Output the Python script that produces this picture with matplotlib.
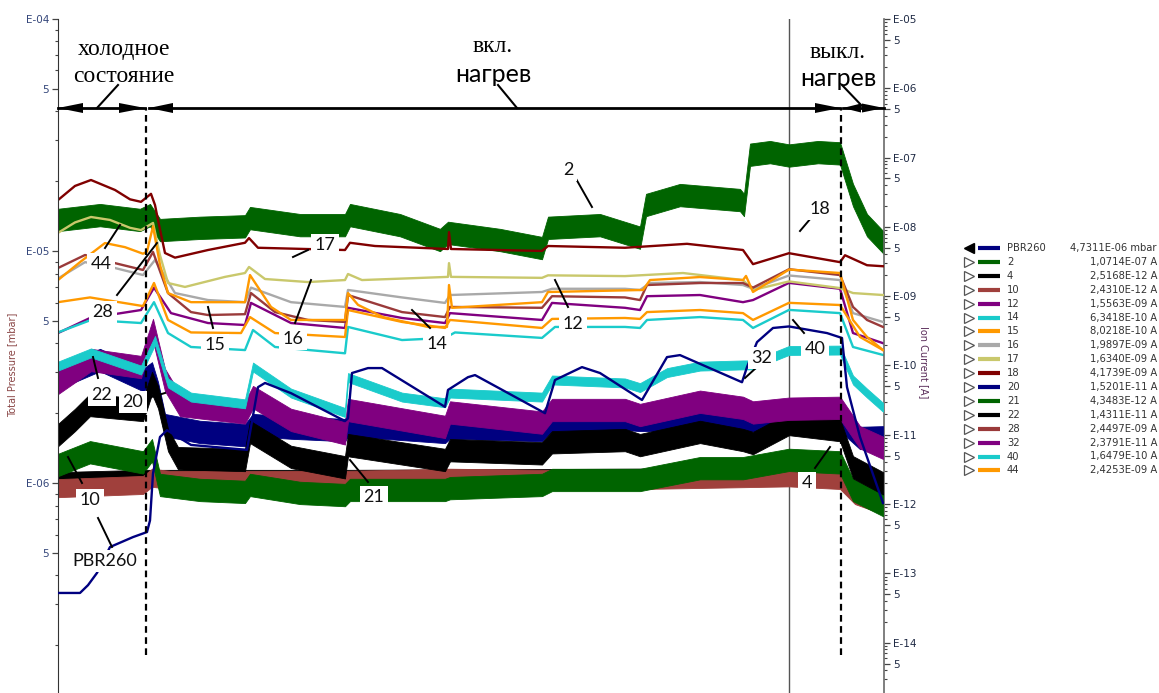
import numpy as np
import matplotlib
matplotlib.use("Agg")
import matplotlib.pyplot as plt
from matplotlib.ticker import FixedLocator, FuncFormatter, NullFormatter

W, H, DPI = 1159, 693, 100

# ---------------- time axis (min) and heater events ----------------
t_end = 826
heater_on = 88
heater_off = 783
cursor_t = 731

# ---------------- total pressure, PBR260 gauge (mbar) ----------------
t_pbr = [0, 22, 30, 39, 52, 75, 89, 92, 95, 102, 109, 133, 189, 200, 207, 233, 287, 290, 294, 310,
         324, 387, 390, 410, 417, 487, 497, 524, 542, 584, 609, 622, 684, 689, 699, 715, 731, 769,
         784, 789, 802, 825]
p_pbr = [3.36e-7, 3.36e-7, 3.63e-7, 4.1e-7, 5.3e-7, 5.85e-7, 6.15e-7, 6.9e-7, 1.10e-6, 1.58e-6,
         1.69e-6, 1.46e-6, 1.39e-6, 2.59e-6, 2.7e-6, 2.44e-6, 1.85e-6, 1.9e-6, 2.98e-6, 3.13e-6,
         3.13e-6, 2.13e-6, 2.52e-6, 2.86e-6, 2.92e-6, 2.0e-6, 2.78e-6, 3.16e-6, 2.98e-6, 2.28e-6,
         3.49e-6, 3.56e-6, 2.72e-6, 3.16e-6, 4.05e-6, 4.66e-6, 4.7311e-6, 4.43e-6, 4.22e-6, 2.59e-6,
         1.58e-6, 8.2e-7]

# ---------------- ion currents (A) per mass number ----------------
t_m2 = [0, 42, 82, 92, 102, 142, 187, 192, 242, 287, 292, 342, 382, 390, 442, 484, 490, 542, 582,
        588, 622, 682, 686, 692, 712, 731, 760, 782, 795, 809, 826]
i_m2 = [1.26e-8, 1.48e-8, 1.26e-8, 1.48e-8, 9.0e-9, 9.7e-9, 1.02e-8, 1.34e-8, 1.06e-8, 1.06e-8,
        1.48e-8, 1.06e-8, 6.47e-9, 8.2e-9, 6.47e-9, 4.95e-9, 9.7e-9, 1.06e-8, 7.0e-9, 2.07e-8,
        2.88e-8, 2.44e-8, 2.07e-8, 1.1e-7, 1.2e-7, 1.0714e-7, 1.2e-7, 1.15e-7, 2.88e-8, 1.06e-8, 5.85e-9]

t_m4 = [0, 85, 102, 287, 582, 731, 782, 797, 825]
i_m4 = [2.23e-12, 2.4e-12, 2.4e-12, 2.4e-12, 2.5e-12, 2.5168e-12, 2.4e-12, 1.5e-12, 1.15e-12]

t_m10 = [0, 85, 94, 112, 287, 392, 582, 731, 782, 797, 825]
i_m10 = [1.7e-12, 1.89e-12, 2.4e-12, 2.23e-12, 2.23e-12, 2.4e-12, 2.23e-12, 2.4310e-12, 2.23e-12,
         1.35e-12, 9.7e-13]

t_m12 = [0, 32, 83, 96, 113, 150, 187, 193, 233, 287, 290, 344, 387, 392, 484, 494, 567, 582, 589,
         642, 685, 695, 731, 782, 795, 825]
i_m12 = [2.94e-10, 4.85e-10, 6.32e-10, 1.33e-9, 5.7e-10, 4.1e-10, 3.84e-10, 8.0e-10, 4.1e-10,
         3.48e-10, 6.8e-10, 4.85e-10, 4.1e-10, 5.7e-10, 4.54e-10, 8.0e-10, 6.8e-10, 6.32e-10, 1.0e-9,
         1.04e-9, 8.2e-10, 8.8e-10, 1.5563e-9, 1.28e-9, 2.94e-10, 2.1e-10]

t_m14 = [0, 33, 83, 96, 110, 133, 187, 195, 217, 287, 290, 344, 387, 397, 484, 497, 567, 582, 589,
         642, 685, 695, 731, 782, 795, 825]
i_m14 = [3.0e-10, 4.54e-10, 4.1e-10, 8.2e-10, 2.94e-10, 1.85e-10, 1.67e-10, 3.25e-10, 1.85e-10,
         1.5e-10, 3.6e-10, 2.33e-10, 2.5e-10, 3.0e-10, 2.5e-10, 3.6e-10, 3.6e-10, 3.48e-10, 4.54e-10,
         5.0e-10, 4.54e-10, 3.48e-10, 6.3418e-10, 5.7e-10, 1.85e-10, 1.42e-10]

t_m15 = [0, 32, 85, 96, 110, 133, 183, 192, 217, 287, 290, 344, 387, 392, 484, 494, 567, 582, 589,
         642, 685, 695, 731, 782, 802, 825]
i_m15 = [8.2e-10, 9.6e-10, 7.2e-10, 1.55e-9, 4.54e-10, 3.0e-10, 2.94e-10, 5.0e-10, 2.94e-10,
         2.58e-10, 6.32e-10, 4.25e-10, 3.48e-10, 4.54e-10, 3.48e-10, 4.7e-10, 4.85e-10, 4.7e-10,
         5.9e-10, 6.32e-10, 5.7e-10, 4.54e-10, 8.0218e-10, 7.46e-10, 2.58e-10, 1.67e-10]

t_m16 = [0, 27, 57, 85, 97, 117, 150, 187, 193, 233, 287, 290, 344, 387, 392, 484, 494, 567, 582,
         592, 642, 685, 695, 731, 782, 795, 825]
i_m16 = [1.8e-9, 3.1e-9, 2.55e-9, 2.02e-9, 3.33e-9, 1.11e-9, 8.8e-10, 8.2e-10, 1.33e-9, 8.2e-10,
         7.0e-10, 1.23e-9, 9.6e-10, 8.0e-10, 1.04e-9, 1.15e-9, 1.28e-9, 1.28e-9, 1.23e-9, 1.55e-9,
         1.6e-9, 1.45e-9, 1.28e-9, 1.9897e-9, 1.71e-9, 5.7e-10, 4.25e-10]

t_m17 = [0, 17, 33, 52, 72, 83, 95, 102, 110, 127, 167, 187, 191, 207, 250, 287, 290, 304, 390, 391,
         393, 484, 490, 567, 625, 685, 695, 731, 782, 795, 825]
i_m17 = [8.2e-9, 1.16e-8, 1.39e-8, 1.26e-8, 9.7e-9, 9.0e-9, 1.14e-8, 3.9e-9, 1.55e-9, 1.36e-9,
         1.9e-9, 2.16e-9, 2.64e-9, 1.77e-9, 1.6e-9, 1.71e-9, 2.09e-9, 1.71e-9, 1.9e-9, 3.0e-9,
         1.9e-9, 1.84e-9, 2.0e-9, 1.95e-9, 2.16e-9, 1.71e-9, 1.23e-9, 1.6340e-9, 1.31e-9, 1.11e-9,
         1.04e-9]

t_m18 = [0, 17, 33, 57, 72, 83, 93, 97, 100, 107, 117, 150, 187, 191, 200, 287, 292, 317, 390, 391,
         393, 484, 490, 567, 629, 685, 695, 731, 782, 787, 809, 826]
i_m18 = [2.44e-8, 3.9e-8, 4.75e-8, 3.41e-8, 2.5e-8, 2.3e-8, 3.0e-8, 2.07e-8, 1.26e-8, 4.2e-9,
         3.6e-9, 4.64e-9, 5.9e-9, 6.9e-9, 5.0e-9, 4.64e-9, 5.9e-9, 5.3e-9, 4.8e-9, 8.4e-9, 4.8e-9,
         4.5e-9, 5.3e-9, 5.0e-9, 5.7e-9, 4.64e-9, 2.9e-9, 4.1739e-9, 3.1e-9, 3.9e-9, 2.8e-9, 2.7e-9]

t_m20 = [0, 42, 85, 94, 100, 107, 142, 187, 195, 233, 287, 290, 387, 392, 484, 494, 567, 582, 642,
         685, 731, 782, 802, 825]
i_m20 = [6.6e-11, 1.2e-10, 6.18e-11, 7.7e-11, 4.0e-11, 1.38e-11, 1.1e-11, 9.9e-12, 1.38e-11,
         1.27e-11, 1.17e-11, 1.38e-11, 1.1e-11, 1.27e-11, 1.17e-11, 1.64e-11, 1.7e-11, 1.64e-11,
         1.64e-11, 1.64e-11, 1.5201e-11, 1.64e-11, 9.0e-12, 9.2e-12]

t_m21 = [0, 32, 85, 94, 102, 142, 187, 192, 242, 287, 292, 387, 392, 484, 494, 582, 642, 685, 731,
         782, 795, 825]
i_m21 = [3.67e-12, 5.6e-12, 4.0e-12, 6.0e-12, 1.89e-12, 1.6e-12, 1.5e-12, 1.89e-12, 1.45e-12,
         1.35e-12, 1.6e-12, 1.6e-12, 1.7e-12, 1.89e-12, 2.23e-12, 2.23e-12, 3.3e-12, 3.3e-12,
         4.3483e-12, 4.0e-12, 1.6e-12, 9.7e-13]

t_m22 = [0, 17, 32, 85, 94, 100, 110, 120, 187, 192, 233, 287, 290, 387, 392, 484, 494, 567, 582,
         642, 685, 695, 731, 782, 795, 825]
i_m22 = [9.9e-12, 1.64e-11, 2.69e-11, 2.28e-11, 5.6e-11, 3.5e-11, 8.4e-12, 4.6e-12, 4.33e-12,
         1.1e-11, 4.8e-12, 3.4e-12, 7.1e-12, 4.33e-12, 6.0e-12, 5.4e-12, 7.8e-12, 8.4e-12, 7.1e-12,
         1.1e-11, 8.4e-12, 7.6e-12, 1.4311e-11, 1.17e-11, 3.4e-12, 2.0e-12]

t_m28 = [0, 27, 57, 85, 95, 110, 133, 150, 187, 193, 217, 250, 287, 290, 344, 387, 392, 484, 494,
         567, 582, 589, 642, 685, 695, 731, 782, 795, 809, 825]
i_m28 = [2.55e-9, 3.93e-9, 3.0e-9, 2.39e-9, 4.35e-9, 1.11e-9, 5.9e-10, 5.35e-10, 5.5e-10, 1.11e-9,
         5.9e-10, 4.54e-10, 4.25e-10, 1.04e-9, 5.9e-10, 5.0e-10, 7.0e-10, 6.8e-10, 1.0e-9, 9.6e-10,
         8.8e-10, 1.45e-9, 1.55e-9, 1.55e-9, 1.33e-9, 2.4497e-9, 2.02e-9, 7.0e-10, 4.54e-10, 3.6e-10]

t_m32 = [0, 33, 83, 95, 107, 122, 187, 195, 233, 287, 290, 387, 392, 484, 494, 567, 582, 642, 685,
         695, 731, 782, 802, 825]
i_m32 = [5.6e-11, 1.2e-10, 9.5e-11, 3.25e-10, 6.18e-11, 2.69e-11, 2.1e-11, 3.5e-11, 1.64e-11,
         1.05e-11, 2.28e-11, 1.3e-11, 2.1e-11, 1.5e-11, 2.28e-11, 2.28e-11, 1.93e-11, 3.0e-11,
         2.45e-11, 2.1e-11, 2.3791e-11, 2.45e-11, 9.2e-12, 6.5e-12]

t_m40 = [0, 33, 83, 97, 110, 133, 187, 195, 233, 287, 290, 344, 387, 392, 484, 494, 567, 582, 609,
         642, 685, 695, 731, 782, 795, 809, 825]
i_m40 = [9.8e-11, 1.52e-10, 8.6e-11, 2.3e-10, 5.6e-11, 3.5e-11, 2.8e-11, 9.5e-11, 4.0e-11, 2.1e-11,
         6.7e-11, 3.5e-11, 2.9e-11, 4.0e-11, 3.5e-11, 6.18e-11, 5.6e-11, 4.8e-11, 7.9e-11, 9.8e-11,
         1.02e-10, 1.02e-10, 1.6479e-10, 1.67e-10, 6.18e-11, 4.0e-11, 2.5e-11]

t_m44 = [0, 22, 47, 67, 85, 89, 95, 102, 110, 133, 187, 192, 213, 233, 287, 290, 300, 325, 370,
         389, 391, 394, 484, 490, 585, 592, 642, 685, 688, 695, 731, 782, 795, 809, 825]
i_m44 = [1.71e-9, 3.1e-9, 5.85e-9, 5.1e-9, 4.1e-9, 4.4e-9, 1.02e-8, 2.82e-9, 1.11e-9, 8.2e-10,
         8.2e-10, 2.02e-9, 7.0e-10, 4.54e-10, 4.54e-10, 1.11e-9, 7.5e-10, 5.0e-10, 3.6e-10, 3.6e-10,
         1.45e-9, 6.8e-10, 8.2e-10, 1.15e-9, 1.23e-9, 1.71e-9, 1.89e-9, 1.71e-9, 1.96e-9, 1.15e-9,
         2.4253e-9, 2.16e-9, 4.54e-10, 2.58e-10, 1.67e-10]

# readout at the cursor, as listed in the channel table
legend_names = ["PBR260", "2", "4", "10", "12", "14", "15", "16", "17", "18", "20", "21", "22",
                "28", "32", "40", "44"]
legend_values = ["4,7311E-06 mbar", "1,0714E-07 A", "2,5168E-12 A", "2,4310E-12 A",
                 "1,5563E-09 A", "6,3418E-10 A", "8,0218E-10 A", "1,9897E-09 A", "1,6340E-09 A",
                 "4,1739E-09 A", "1,5201E-11 A", "4,3483E-12 A", "1,4311E-11 A", "2,4497E-09 A",
                 "2,3791E-11 A", "1,6479E-10 A", "2,4253E-09 A"]

# ---------------- styling ----------------
colors = {"PBR260": "#000080", "2": "#006400", "4": "#000000", "10": "#A0403C", "12": "#800080",
          "14": "#1ACBCB", "15": "#FF9900", "16": "#A9A9A9", "17": "#C9C86C", "18": "#800000",
          "20": "#000080", "21": "#006400", "22": "#000000", "28": "#9A3A3A", "32": "#800080",
          "40": "#1ACBCB", "44": "#FF9900"}
# spread of the noisy channels (multiplicative half-width of the band)
noise_band = {"2": 1.45, "4": 1.30, "10": 1.35, "20": 1.45, "21": 1.45, "22": 1.45,
              "32": 1.45, "40": 1.16}

ion_series = [("2", t_m2, i_m2), ("4", t_m4, i_m4), ("10", t_m10, i_m10), ("12", t_m12, i_m12),
              ("14", t_m14, i_m14), ("15", t_m15, i_m15), ("16", t_m16, i_m16),
              ("17", t_m17, i_m17), ("18", t_m18, i_m18), ("20", t_m20, i_m20),
              ("21", t_m21, i_m21), ("22", t_m22, i_m22), ("28", t_m28, i_m28),
              ("32", t_m32, i_m32), ("40", t_m40, i_m40), ("44", t_m44, i_m44)]

fig = plt.figure(figsize=(W / DPI, H / DPI), dpi=DPI)
fig.patch.set_facecolor("white")

ax_p = fig.add_axes([58 / W, 0.0, 826 / W, 674 / H])
ax_i = ax_p.twinx()
ax_p.set_zorder(ax_i.get_zorder() + 1)
ax_p.patch.set_visible(False)

p_lim = (1.245e-7, 1e-4)
i_lim = (1.88e-15, 1e-5)
ax_p.set_xlim(0, t_end)
ax_p.set_yscale("log")
ax_i.set_yscale("log")
ax_p.set_ylim(*p_lim)
ax_i.set_ylim(*i_lim)
ax_p.set_xticks([])


def log_ticks(lo, hi, subs):
    """Tick values m*10^e inside (lo, hi], keeping clear of the lower edge."""
    out = []
    for e in range(int(np.floor(np.log10(lo))) - 1, int(np.ceil(np.log10(hi))) + 1):
        for m in subs:
            v = m * 10.0 ** e
            if lo * 1.1 < v <= hi * 1.0001:
                out.append(v)
    return out


def e_label(v, pos):
    exp = int(np.floor(np.log10(v) + 1e-9))
    mant = round(v / 10.0 ** exp, 3)
    if mant == 1.0:
        return "E-%02d" % (-exp)
    if mant == 5.0:
        return "5"
    return ""


for ax, lims, lc in ((ax_p, p_lim, "#34467a"), (ax_i, i_lim, "#1f2a44")):
    ax.yaxis.set_major_locator(FixedLocator(log_ticks(lims[0], lims[1], (1.0, 5.0))))
    ax.yaxis.set_minor_locator(FixedLocator(log_ticks(lims[0], lims[1], (2, 3, 4, 6, 7, 8, 9))))
    ax.yaxis.set_major_formatter(FuncFormatter(e_label))
    ax.yaxis.set_minor_formatter(NullFormatter())
    ax.tick_params(axis="y", which="major", direction="out", length=4.5, width=0.9,
                   labelsize=7.5, labelcolor=lc, color="#444444", pad=2)
    ax.tick_params(axis="y", which="minor", direction="out", length=2.5, width=0.8,
                   color="#444444")
    for s in ("top", "bottom"):
        ax.spines[s].set_visible(False)

ax_p.spines["right"].set_visible(False)
ax_p.spines["left"].set_color("#333333")
ax_i.spines["left"].set_visible(False)
ax_i.spines["right"].set_color("#6a6a6a")
ax_i.spines["right"].set_linewidth(1.2)

ax_p.set_ylabel("Total Pressure [mbar]", fontsize=7, color="#8a4646")
ax_p.yaxis.set_label_coords(-41 / 826, (H - 365) / 674)
ax_i.set_ylabel("Ion Current [A]", fontsize=7, color="#5a2d5a", rotation=270, va="center")
ax_i.yaxis.set_label_coords(1.0 + 40 / 826, (H - 362) / 674)

# cursor line
ax_i.axvline(cursor_t, color="#555555", lw=1.0, zorder=1)

# ion currents
for k, (name, t, v) in enumerate(ion_series):
    t = np.asarray(t, float)
    v = np.asarray(v, float)
    c = colors[name]
    if name in noise_band:
        f = noise_band[name]
        ax_i.fill_between(t, v / f, v * f, color=c, lw=0.6, edgecolor=c, zorder=2 + k * 0.1)
    else:
        ax_i.plot(t, v, color=c, lw=1.7, zorder=2 + k * 0.1, solid_joinstyle="round")

# total pressure
ax_p.plot(t_pbr, p_pbr, color=colors["PBR260"], lw=1.7, zorder=5)

# heater on / off markers
ymin_d = (H - 655) / 674
ymax_d = (H - 108) / 674
for tv in (heater_on, heater_off):
    ax_p.axvline(tv, ymin=ymin_d, ymax=ymax_d, color="black", lw=1.6,
                 ls=(0, (3, 2)), zorder=6)

# ---------------- annotation layer in pixel coordinates ----------------
ov = fig.add_axes([0, 0, 1, 1])
ov.set_xlim(0, W)
ov.set_ylim(H, 0)
ov.axis("off")
ov.set_zorder(20)
ov.patch.set_visible(False)


def t_px(tv):
    return ax_p.transData.transform((tv, 1e-5))[0]


x0 = t_px(0)
x_on = t_px(heater_on)
x_off = t_px(heater_off)
x1 = t_px(t_end)
ya = 108


def head(tip, base, y=ya, half=5):
    ov.fill([tip, base, base], [y, y - half, y + half], color="black", lw=0)


ov.plot([x0, x_on - 1], [ya, ya], color="black", lw=2)
head(x0, x0 + 25)
head(x_on - 1, x_on - 27)
ov.plot([x_on + 3, x_off - 1], [ya, ya], color="black", lw=2)
head(x_on + 3, x_on + 27)
head(x_off - 1, x_off - 26)
ov.plot([x_off + 2, x1], [ya, ya], color="black", lw=2)
head(x_off + 2, x_off + 20, half=4.5)
head(x1, x1 - 22, half=4.5)

serif = "Liberation Serif"
sans = "Lato"
ov.text(124, 50, "холодное", fontsize=17, family=serif, ha="center", va="center")
ov.text(124, 76, "состояние", fontsize=17, family=serif, ha="center", va="center")
ov.text(493, 47, "вкл.", fontsize=17, family=serif, ha="center", va="center")
ov.text(493, 74, "нагрев", fontsize=18, family=sans, ha="center", va="center")
ov.text(838, 52, "выкл.", fontsize=17, family=serif, ha="center", va="center")
ov.text(838, 78, "нагрев", fontsize=18, family=sans, ha="center", va="center")
for (xa, ya1, xb, yb) in ((118, 85, 97, 108), (498, 85, 517, 108), (842, 85, 863, 107)):
    ov.plot([xa, xb], [ya1, yb], color="black", lw=1.5)

# channel labels with leader lines
tags = [("44", 101, 264), ("28", 103, 312), ("15", 215, 345), ("16", 293, 339), ("17", 325, 245),
        ("14", 437, 344), ("12", 573, 324), ("2", 568, 170), ("18", 820, 209), ("40", 815, 349),
        ("32", 762, 358), ("4", 807, 483), ("22", 102, 395), ("20", 133, 402), ("10", 90, 500),
        ("21", 374, 497), ("PBR260", 105, 561)]
leaders = [(105, 248, 120, 225), (117, 295, 157, 243), (208, 307, 213, 328), (295, 323, 311, 280),
           (293, 257, 308, 250), (430, 328, 412, 310), (568, 307, 555, 280), (575, 177, 592, 207),
           (811, 218, 800, 231), (804, 333, 793, 320), (757, 367, 745, 378), (815, 468, 830, 447),
           (98, 378, 93, 357), (148, 398, 165, 393), (82, 483, 68, 457), (368, 482, 350, 460),
           (112, 547, 98, 518)]
for (xa, ya1, xb, yb) in leaders:
    ov.plot([xa, xb], [ya1, yb], color="black", lw=1.4, zorder=3)
for (txt, xt, yt) in tags:
    ov.text(xt, yt, txt, fontsize=13, family=sans, ha="center", va="center", color="#111111",
            zorder=4, bbox=dict(facecolor="white", edgecolor="none", pad=2.5))

# channel table
row0, dy = 248, 13.9
for i, (name, val) in enumerate(zip(legend_names, legend_values)):
    y = row0 + i * dy
    if i == 0:
        ov.plot(969, y, marker="<", ms=6.5, color="black", mec="black")
    else:
        ov.plot(969, y, marker=">", ms=6.5, mfc="white", mec="#555555", mew=0.9)
    ov.plot([978, 1000], [y, y], color=colors[name], lw=3, solid_capstyle="butt")
    ov.text(1007, y, name, fontsize=7.2, ha="left", va="center", color="#333333")
    ov.text(1157, y, val, fontsize=7.2, ha="right", va="center", color="#333333")

fig.savefig("out.png", dpi=DPI)
